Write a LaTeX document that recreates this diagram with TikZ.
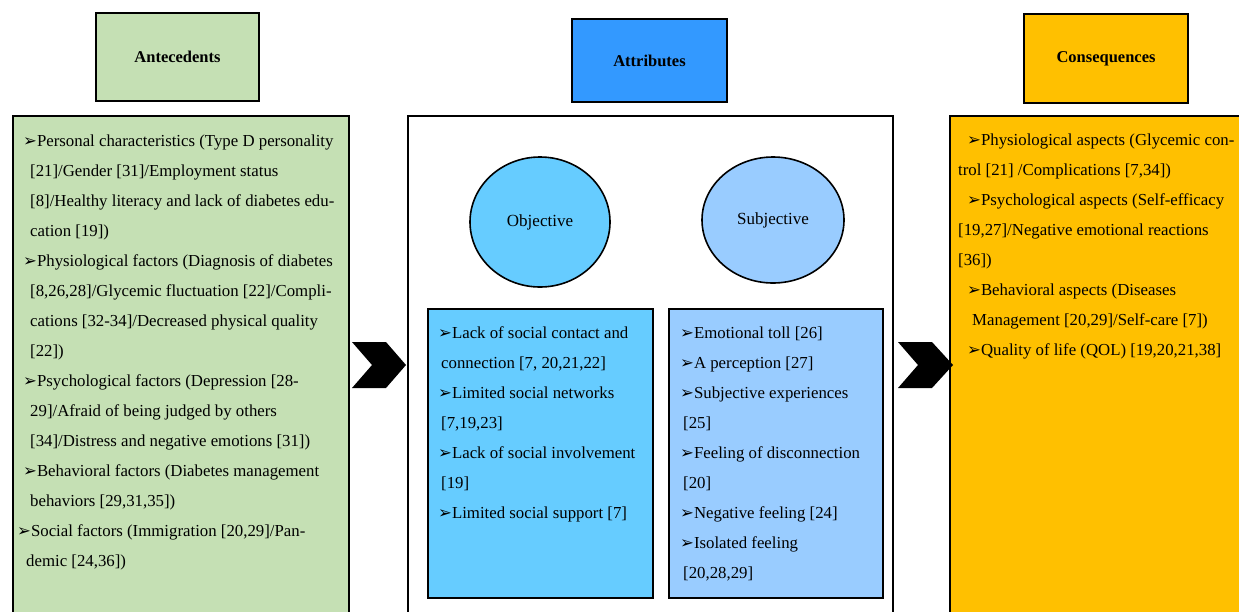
\documentclass[tikz,border=0pt]{standalone}
\usepackage{fontspec}
\setmainfont{Liberation Serif}
\newfontfamily\symfont{DejaVu Sans}
\usepackage{xcolor}
\usepackage{tikz}
\usetikzlibrary{positioning,shapes.geometric}

\newcommand{\arr}{{\symfont\fontsize{16.5}{30}\selectfont ➢}}
\newcommand{\firstline}{\rule{0pt}{20pt}}

\begin{document}
\begin{tikzpicture}[x=1pt, y=-1pt]
  % Colour definitions
  \definecolor{antefill}{HTML}{C5E0B4}   % soft green
  \definecolor{attrfill}{HTML}{3399FF}   % blue
  \definecolor{consfill}{HTML}{FFC000}   % amber
  \definecolor{objfill}{HTML}{66CCFF}
  \definecolor{subjfill}{HTML}{99CCFF}

  \tikzstyle{headbox} = [draw, line width=2pt, inner sep=0pt,
    font=\fontsize{16.5}{20}\selectfont\bfseries]
  \tikzstyle{bigbox} = [draw, line width=2pt, inner sep=0pt]
  \tikzstyle{aspect} = [ellipse, draw, line width=1.6pt, inner sep=0pt,
    font=\fontsize{17}{20}\selectfont]
  \tikzstyle{itemtext} = [anchor=north west, align=left, inner sep=0pt,
    font=\fontsize{16.8}{30}\selectfont]

  \useasboundingbox (0,0) rectangle (1239,611);
  \clip (0,0) rectangle (1239,611);

  % Header boxes
  \node[headbox, fill=antefill, minimum width=163, minimum height=88] (anteh) at (177.5,57) {Antecedents};
  \node[headbox, fill=attrfill, minimum width=155, minimum height=83] (attrh) at (649.5,60.5) {Attributes};
  \node[headbox, fill=consfill, minimum width=164, minimum height=89] (consh) at (1106,58.5) {Consequences};

  % Main boxes (run off the page at the bottom)
  \node[bigbox, fill=antefill, minimum width=336, minimum height=544] (ante) at (181,388) {};
  \node[bigbox, fill=white, minimum width=485, minimum height=544] (attr) at (650.5,388) {};
  \node[bigbox, fill=consfill, minimum width=350, minimum height=544] (cons) at (1125,388) {};

  % Attribute groups
  \node[aspect, fill=objfill, minimum width=140, minimum height=130] (obj) at (540,222) {Objective};
  \node[aspect, fill=subjfill, minimum width=142, minimum height=126] (subj) at (773,220) {Subjective};
  \node[bigbox, fill=objfill, minimum width=225, minimum height=289] (objlist) at (540.5,453.5) {};
  \node[bigbox, fill=subjfill, minimum width=214, minimum height=289] (subjlist) at (776,453.5) {};

  % Item lists
  \node[itemtext] (antetext) at (23,126) {\firstline\arr Personal characteristics (Type D personality\\
    \hspace*{7pt}[21]/Gender [31]/Employment status\\
    \hspace*{7pt}[8]/Healthy literacy and lack of diabetes edu-\\
    \hspace*{7pt}cation [19])\\
    \arr Physiological factors (Diagnosis of diabetes\\
    \hspace*{7pt}[8,26,28]/Glycemic fluctuation [22]/Compli-\\
    \hspace*{7pt}cations [32-34]/Decreased physical quality\\
    \hspace*{7pt}[22])\\
    \arr Psychological factors (Depression [28-\\
    \hspace*{7pt}29]/Afraid of being judged by others\\
    \hspace*{7pt}[34]/Distress and negative emotions [31])\\
    \arr Behavioral factors (Diabetes management\\
    \hspace*{7pt}behaviors [29,31,35])\\
    \hspace*{-6pt}\arr Social factors (Immigration [20,29]/Pan-\\
    \hspace*{3pt}demic [24,36])};
  \node[itemtext] (objtext) at (438,318) {\firstline\arr Lack of social contact and\\
    \hspace*{3pt}connection [7, 20,21,22]\\
    \arr Limited social networks\\
    \hspace*{3pt}[7,19,23]\\
    \arr Lack of social involvement\\
    \hspace*{3pt}[19]\\
    \arr Limited social support [7]};
  \node[itemtext] (subjtext) at (680,318) {\firstline\arr Emotional toll [26]\\
    \arr A perception [27]\\
    \arr Subjective experiences\\
    \hspace*{3pt}[25]\\
    \arr Feeling of disconnection\\
    \hspace*{3pt}[20]\\
    \arr Negative feeling [24]\\
    \arr Isolated feeling\\
    \hspace*{3pt}[20,28,29]};
  \node[itemtext] (constext) at (958,125) {\firstline\hspace*{9pt}\arr Physiological aspects (Glycemic con-\\
    trol [21] /Complications [7,34])\\
    \hspace*{9pt}\arr Psychological aspects (Self-efficacy\\
    {}[19,27]/Negative emotional reactions\\
    {}[36])\\
    \hspace*{9pt}\arr Behavioral aspects (Diseases\\
    \hspace*{14pt}Management [20,29]/Self-care [7])\\
    \hspace*{9pt}\arr Quality of life (QOL) [19,20,21,38]};

  % Chevron arrows between the main boxes
  \fill[black] (352,342) -- (386,342) -- (406,365) -- (386,388) -- (352,388) -- (372,365) -- cycle;
  \fill[black] (898,342) -- (932,342) -- (953,365) -- (932,388) -- (898,388) -- (918,365) -- cycle;
\end{tikzpicture}
\end{document}
